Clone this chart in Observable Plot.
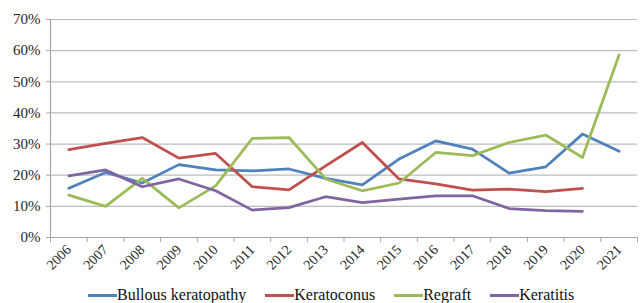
<!DOCTYPE html>
<html><head><meta charset="utf-8">
<script src="https://cdn.jsdelivr.net/npm/d3@7"></script>
<script src="https://cdn.jsdelivr.net/npm/@observablehq/plot@0.6"></script>
</head><body style="margin:0;background:#fff;font-family:'Liberation Serif',serif !important"><div id="chart"></div><div id="legend" style="display:flex;align-items:center;height:18px;padding-left:88px;font-size:16px;line-height:18px;color:#111;white-space:nowrap;font-family:'Liberation Serif',serif !important"></div><script>
const years = [2006,2007,2008,2009,2010,2011,2012,2013,2014,2015,2016,2017,2018,2019,2020,2021];
const bullous     = [15.8,20.9,17.5,23.4,21.7,21.4,22.0,19.0,16.9,25.2,31.0,28.4,20.7,22.7,33.2,27.7];
const keratoconus = [28.2,30.2,32.1,25.5,27.0,16.3,15.3,23.0,30.5,18.8,17.2,15.2,15.5,14.7,15.8,null];
const regraft     = [13.6,10.0,19.0,9.5,16.6,31.8,32.1,18.8,15.0,17.5,27.3,26.3,30.5,32.9,25.7,58.7];
const keratitis   = [19.8,21.7,16.3,18.8,15.0,8.8,9.6,13.1,11.2,12.3,13.4,13.4,9.3,8.6,8.4,null];
const seriesNames  = ["Bullous keratopathy","Keratoconus","Regraft","Keratitis"];
const seriesColors = ["#4F81BD","#C0504D","#9BBB59","#8064A2"];
const yTicks = [0,10,20,30,40,50,60,70];

const seriesValues = [bullous, keratoconus, regraft, keratitis];
const rows = [];
seriesNames.forEach((s, j) => years.forEach((yr, i) => {
  const v = seriesValues[j][i];
  if (v != null) rows.push({year: yr, series: s, value: v});
}));
const x0 = years[0] - 0.5, x1 = years[years.length - 1] + 0.5;
const boundaries = d3.range(x0, x1 + 0.01, 1);
const serif = "'Liberation Serif', serif";

const chart = Plot.plot({
  width: 642, height: 286,
  marginLeft: 50, marginRight: 5, marginTop: 19, marginBottom: 49,
  style: "font-family:'Liberation Serif',serif;background:#fff;display:block",
  x: {type: "linear", domain: [x0, x1]},
  y: {domain: [0, 70]},
  color: {domain: seriesNames, range: seriesColors},
  marks: [
    Plot.gridY(yTicks, {stroke: "#bcbcbc", strokeOpacity: 1, strokeWidth: 1.2}),
    Plot.ruleX([x0], {stroke: "#a6a6a6", strokeWidth: 1.2}),
    Plot.ruleY([0], {stroke: "#a6a6a6", strokeWidth: 1.2}),
    Plot.axisY({ticks: yTicks, tickSize: 4, tickPadding: 6, tickFormat: d => d + "%", stroke: "#a6a6a6", fill: "#262626", fontSize: 15, fontFamily: serif, label: null}),
    Plot.axisX({ticks: boundaries, tickSize: 5, tickFormat: () => "", stroke: "#a6a6a6", label: null}),
    Plot.axisX({ticks: years, tickSize: 0, tickPadding: 10, tickRotate: -45, tickFormat: d => String(d), fill: "#262626", fontSize: 14, fontFamily: serif, label: null}),
    Plot.line(rows, {x: "year", y: "value", z: "series", stroke: "series", strokeWidth: 2.75, strokeLinejoin: "round"})
  ]
});
chart.querySelectorAll("text, g").forEach(el => el.style.setProperty("font-family", serif, "important"));
chart.style.setProperty("font-family", serif, "important");
document.getElementById("chart").appendChild(chart);

const legend = document.getElementById("legend");
seriesNames.forEach((s, j) => {
  const it = document.createElement("span");
  it.style.cssText = "display:inline-flex;align-items:center;margin-right:19px";
  it.style.setProperty("font-family", serif, "important");
  const sw = document.createElement("span");
  sw.style.cssText = "display:inline-block;width:29px;height:3px;background:" + seriesColors[j];
  const tx = document.createElement("span");
  tx.style.setProperty("font-family", serif, "important");
  tx.textContent = s;
  it.appendChild(sw); it.appendChild(tx);
  legend.appendChild(it);
});
</script></body></html>
